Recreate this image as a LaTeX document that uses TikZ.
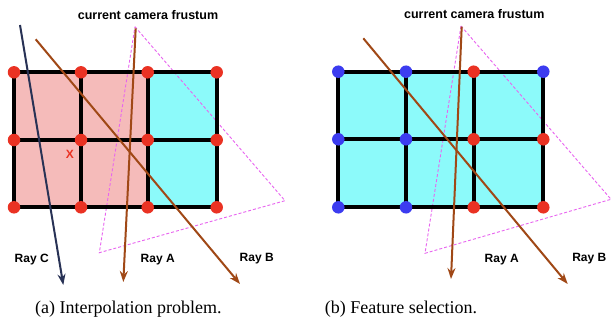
\documentclass[tikz,border=0pt]{standalone}
\usepackage{fontspec}
\setmainfont{Liberation Serif}
\newfontfamily\labelfont{Liberation Sans}
\usetikzlibrary{arrows.meta}
\definecolor{pinkfill}{RGB}{245,187,186}
\definecolor{cyanfill}{RGB}{140,250,250}
\definecolor{dotred}{RGB}{234,50,35}
\definecolor{dotblue}{RGB}{60,60,240}
\definecolor{raybrown}{RGB}{160,72,22}
\definecolor{raynavy}{RGB}{40,50,85}
\definecolor{frustcol}{RGB}{232,100,240}
\tikzset{
  gridline/.style={line width=4pt, black, line join=miter},
  reddot/.style={circle, fill=dotred, inner sep=0pt, minimum size=12.5pt},
  bluedot/.style={circle, fill=dotblue, inner sep=0pt, minimum size=12.5pt},
  frust/.style={draw=frustcol, dashed, dash pattern=on 3pt off 2pt, line width=0.9pt},
  ray/.style={line width=2pt, -{Stealth[length=11pt,width=8pt]}},
  raylabel/.style={font=\labelfont\bfseries\fontsize{12}{14}\selectfont, inner sep=0pt},
  titlelabel/.style={font=\labelfont\bfseries\fontsize{12.5}{14}\selectfont, inner sep=0pt},
  caption/.style={font=\fontsize{18}{20}\selectfont, inner sep=0pt}
}
\begin{document}
\begin{tikzpicture}[x=1pt,y=-1pt]
\useasboundingbox (0,0) rectangle (612,326);
\fill[white] (0,0) rectangle (612,326);
% ---------------- left panel ----------------
\fill[pinkfill] (14,72.3) rectangle (147.7,207.3);
\fill[cyanfill] (147.7,72.3) rectangle (216.7,207.3);
\draw[frust] (135,26.7) -- (285,200.7) -- (99.3,252.7) -- cycle;
\draw[gridline] (14,72.3) rectangle (216.7,207.3);
\draw[gridline] (81,72.3) -- (81,207.3) (147.7,72.3) -- (147.7,207.3) (14,140) -- (216.7,140);
\node[font=\labelfont\bfseries\fontsize{12}{14}\selectfont, text=dotred, inner sep=0pt] (xmark) at (70,154) {X};
\coordinate (LCs) at (20,25);   \coordinate (LCe) at (63.3,285);
\coordinate (LAs) at (135.7,28.3); \coordinate (LAe) at (123.3,282);
\coordinate (LBs) at (35.7,39.3); \coordinate (LBe) at (240,284);
\draw[ray, raynavy] (LCs) -- (LCe);
\draw[ray, raybrown] (LAs) -- (LAe);
\draw[ray, raybrown] (LBs) -- (LBe);
\foreach \c/\x in {0/14,1/81,2/147.7,3/216.7}{
  \foreach \r/\y in {0/72.3,1/140,2/207.3}{
    \node[reddot] (L\c\r) at (\x,\y) {};
  }
}
\node[titlelabel] (Ltitle) at (148,15) {current camera frustum};
\node[raylabel] (LlabC) at (31.7,260) {Ray C};
\node[raylabel] (LlabA) at (157.7,260) {Ray A};
\node[raylabel] (LlabB) at (256.7,259) {Ray B};
\node[caption] (capa) at (128.3,309) {(a) Interpolation problem.};
% ---------------- right panel ----------------
\fill[cyanfill] (338.3,71.7) rectangle (543.3,207.3);
\draw[frust] (461,26) -- (611,199.3) -- (425,253.3) -- cycle;
\draw[gridline] (338.3,71.7) rectangle (543.3,207.3);
\draw[gridline] (406,71.7) -- (406,207.3) (473.7,71.7) -- (473.7,207.3) (338.3,139.3) -- (543.3,139.3);
\coordinate (RAs) at (461.7,26.7); \coordinate (RAe) at (451,279);
\coordinate (RBs) at (363.3,38.3); \coordinate (RBe) at (567.7,284);
\draw[ray, raybrown] (RAs) -- (RAe);
\draw[ray, raybrown] (RBs) -- (RBe);
\foreach \c/\x in {0/338.3,1/406}{
  \foreach \r/\y in {0/71.7,1/139.3,2/207.3}{
    \node[bluedot] (R\c\r) at (\x,\y) {};
  }
}
\node[reddot] (R20) at (473.7,71.7) {};
\node[reddot] (R21) at (473.7,139.3) {};
\node[reddot] (R22) at (473.7,207.3) {};
\node[bluedot] (R30) at (543.3,71.7) {};
\node[reddot] (R31) at (543.3,139.3) {};
\node[reddot] (R32) at (543.3,207.3) {};
\node[titlelabel] (Rtitle) at (474.3,14) {current camera frustum};
\node[raylabel] (RlabA) at (501.7,260) {Ray A};
\node[raylabel] (RlabB) at (589.3,259) {Ray B};
\node[caption] (capb) at (401,309) {(b) Feature selection.};
\end{tikzpicture}
\end{document}
